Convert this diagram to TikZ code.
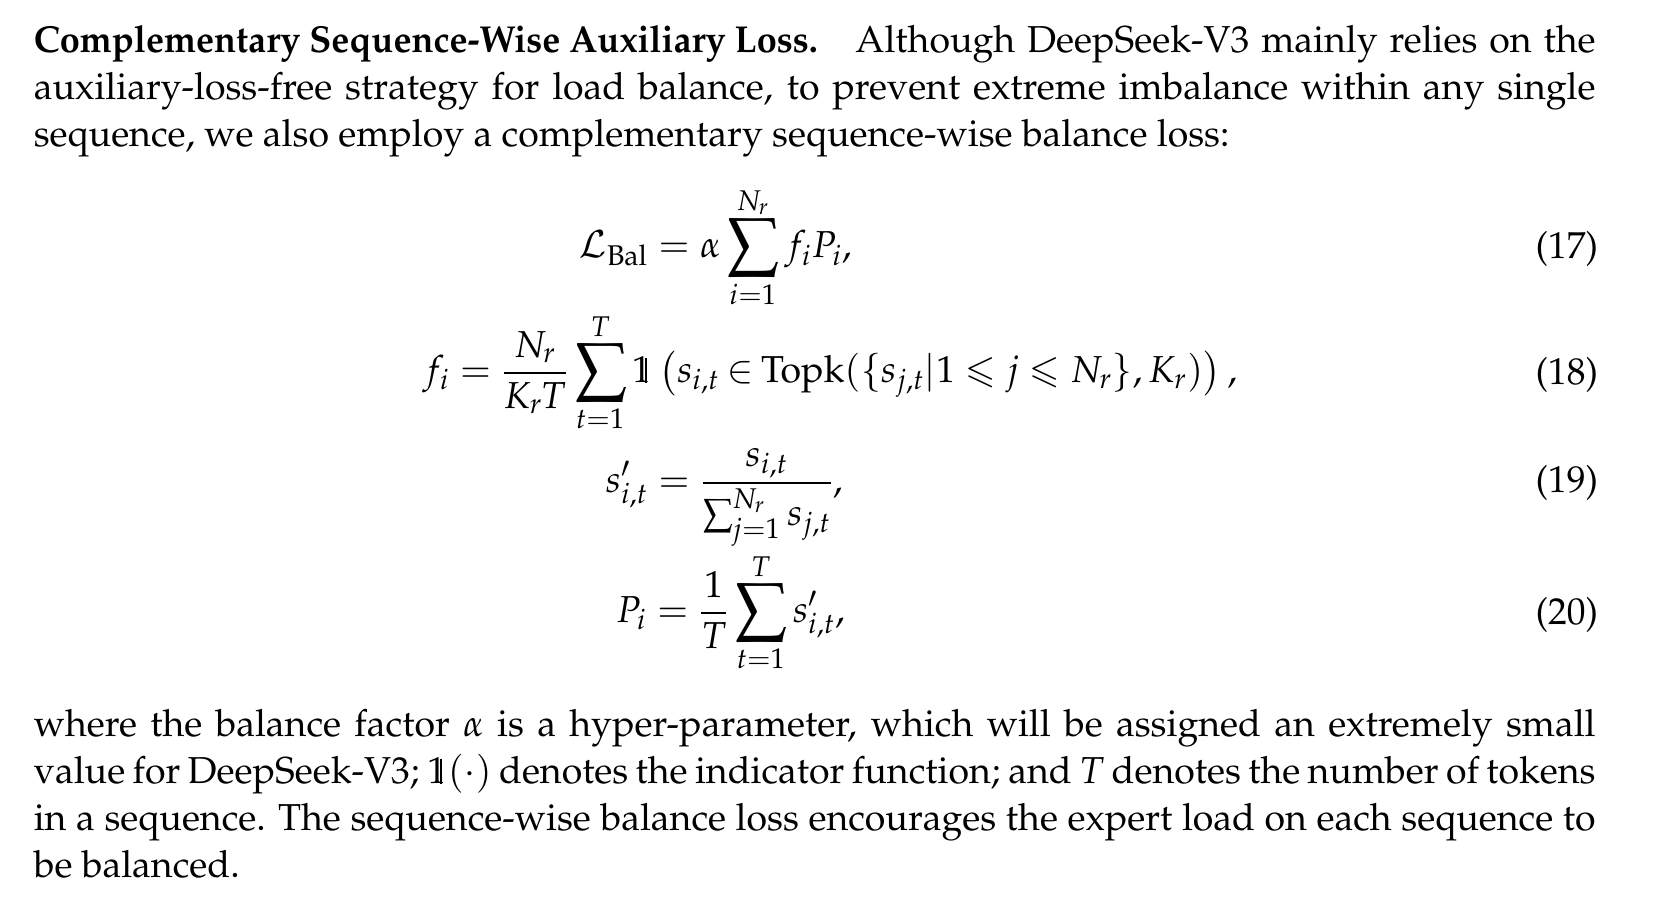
\documentclass[tikz,border=0pt]{standalone}
\usepackage[T1]{fontenc}
\usepackage{mathpazo}
\usepackage{amsmath,amssymb}
\usepackage{graphicx}
\usetikzlibrary{positioning}
\newcommand{\bodyfont}{\fontsize{18.75}{23.5}\selectfont}
\newcommand{\indic}{\mathord{\text{\rlap{1}\hspace{0.34em}\rule{0.045em}{0.655em}\hspace{0.16em}}}}
\newcommand{\bigsum}{\mathop{\vcenter{\hbox{\scalebox{1.25}{$\displaystyle\sum$}}}}\limits}
\tikzset{
  para/.style={anchor=base west, inner sep=0pt, outer sep=0pt, text width=781pt, align=justify, font=\bodyfont},
  eqn/.style={anchor=base west, inner sep=0pt, outer sep=0pt, font=\bodyfont},
  eqnum/.style={anchor=base east, inner sep=0pt, outer sep=0pt, font=\bodyfont}
}
\begin{document}
\begin{tikzpicture}[x=0.5285pt,y=-0.5285pt]
\useasboundingbox[fill=white] (0,0) rectangle (1565,865);
\node[para] (top) at (32,50) {\parindent=0pt\hyphenpenalty=10000\tolerance=9999\scalebox{0.962}[1]{\textbf{Complementary Sequence-Wise Auxiliary Loss.}}\quad Although DeepSeek-V3 mainly relies on the\linebreak auxiliary-loss-free strategy for load balance, to prevent extreme imbalance within any single\linebreak sequence, we also employ a complementary sequence-wise balance loss:};
\node[eqn] (e17) at (548,244) {$\displaystyle \mathcal{L}_{\mathrm{Bal}} = \alpha\bigsum_{i=1}^{N_r} f_iP_i,$};
\node[eqn] (e18) at (400,362) {$\displaystyle f_i = \frac{N_r}{K_r\mkern-1mu T}\bigsum_{t=1}^{T}\indic\left(s_{i,t}\mathrel{\mkern-1.5mu\in\mkern-1.5mu}\operatorname{Topk}(\{s_{j,t}|1\leqslant j\leqslant N_r\},K_r)\right),$};
\node[eqn] (e19) at (573,466) {$\displaystyle s'_{i,t} = \frac{s_{i,t}}{\sum_{j=1}^{N_r}s_{j,t}},$};
\node[eqn] (e20) at (583,589) {$\displaystyle P_i = \frac{1}{T}\bigsum_{t=1}^{T}s'_{i,t},$};
\node[eqnum] (n17) at (1512,245) {(17)};
\node[eqnum] (n18) at (1512,364) {(18)};
\node[eqnum] (n19) at (1512,466) {(19)};
\node[eqnum] (n20) at (1512,591) {(20)};
\node[para] (bot) at (32,697) {\parindent=0pt\hyphenpenalty=10000\tolerance=9999 where the balance factor $\alpha$ is a hyper-parameter, which will be assigned an extremely small\linebreak value for DeepSeek-V3; $\indic(\cdot)$ denotes the indicator function; and $T$ denotes the number of tokens\linebreak in a sequence. The sequence-wise balance loss encourages the expert load on each sequence to\linebreak be balanced.};
\end{tikzpicture}
\end{document}
